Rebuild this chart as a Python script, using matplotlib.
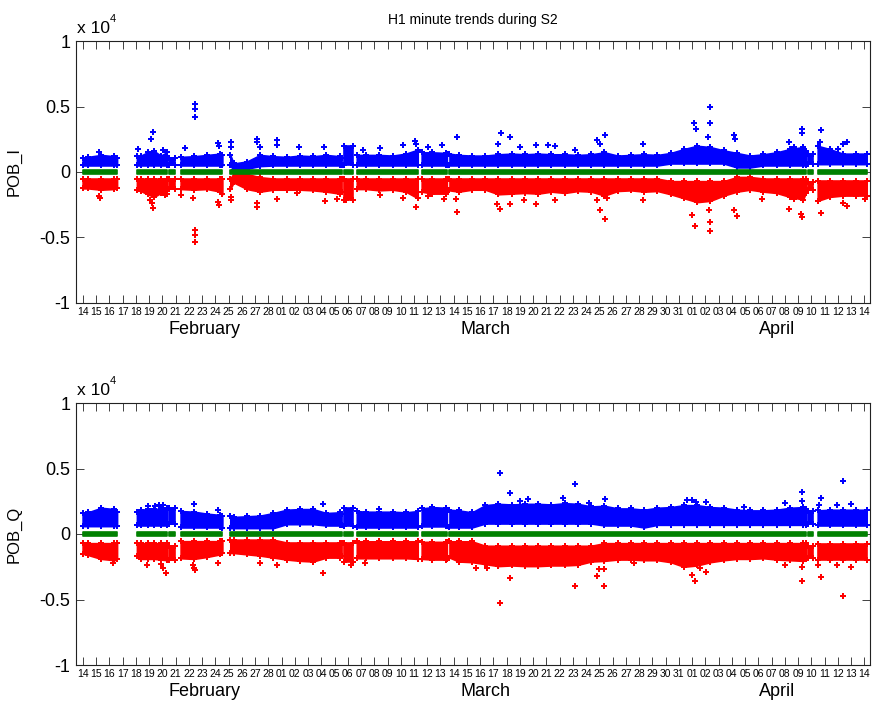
import matplotlib
matplotlib.use("Agg")
import matplotlib.pyplot as plt
import numpy as np

plt.rcParams["font.family"] = ["Liberation Sans", "DejaVu Sans"]

# time axis: days after Feb 14 (data coordinates); labels sit slightly left of whole days
feb_days = list(range(14, 29))
mar_days = list(range(1, 32))
apr_days = list(range(1, 15))
tick_labels = ["%02d" % d for d in feb_days + mar_days + apr_days]
tick_offset = -0.38
month_names = ["February", "March", "April"]
month_pos = [8.8, 30.0, 52.0]

# stretches of time with data (day offsets)
segments = [(-0.4, 2.2), (3.7, 5.95), (6.1, 6.6), (7.0, 10.15), (10.75, 19.15),
            (19.3, 20.05), (20.3, 24.9), (25.2, 27.1), (27.3, 54.2),
            (54.4, 54.75), (55.1, 58.8)]

t = [-0.4, 0, 1, 2, 2.2,
     3.7, 4, 4.5, 5, 5.5, 5.95,
     6.1, 6.6,
     7, 8, 9, 10, 10.15,
     10.75, 11, 12, 13, 14, 15, 16, 17, 18, 19, 19.15,
     19.3, 20.05,
     20.3, 21, 22, 23, 24, 24.9,
     25.2, 26, 27, 27.1,
     27.3, 28, 29, 30, 31, 32, 33, 34, 35, 36, 37, 38, 39, 40, 41,
     42, 43, 44, 45, 46, 47, 48, 49, 50, 51, 52, 53, 54, 54.2,
     54.4, 54.75,
     55.1, 56, 57, 58, 58.8]

# ---- POB_I ----
top_blue_hi = [1100, 1150, 1300, 1200, 1050,
               1250, 1250, 1500, 1600, 1250, 1500,
               1050, 1050,
               1150, 1200, 1300, 1400, 1300,
               1300, 650, 800, 1300, 1200, 1150, 1250, 1200, 1300, 1200, 1100,
               1950, 1950,
               1300, 1300, 1300, 1250, 1400, 1700,
               1500, 1500, 1450, 1400,
               1400, 1300, 1250, 1250, 1350, 1400, 1350, 1400, 1350, 1350, 1300,
               1350, 1500, 1250, 1300, 1350, 1300, 1450, 1750, 2000, 1900, 1650,
               1450, 1250, 1350, 1500, 1750, 1900, 1600,
               1400, 1400,
               2000, 1750, 1400, 1400, 1400]
top_blue_lo = [500] * 5 + [500] * 6 + [500] * 2 + [500] * 5 + \
              [500, 150, 250, 450] + [500] * 7 + [500] * 2 + [500] * 6 + [500] * 4 + \
              [500] * 17 + [650] * 5 + [350] * 2 + [500] * 5 + [600] * 2 + [600] * 5
top_red_hi = [-500] * 5 + [-500] * 6 + [-500] * 2 + [-500] * 5 + \
             [-500, -100, -150, -400] + [-500] * 7 + [-500] * 2 + [-500] * 6 + [-500] * 4 + \
             [-500] * 17 + [-700] * 5 + [-380] * 2 + [-500] * 5 + [-750] * 2 + [-650] * 5
top_red_lo = [-1250, -1250, -1350, -1300, -1200,
              -1400, -1450, -1700, -1900, -1600, -1700,
              -1300, -1300,
              -1300, -1350, -1300, -1500, -1700,
              -1300, -800, -1300, -1500, -1350, -1350, -1350, -1400, -1500, -1650, -1500,
              -2100, -2100,
              -1300, -1300, -1400, -1350, -1500, -2000,
              -1500, -1650, -1650, -1500,
              -1400, -1500, -1350, -1350, -1700, -1650, -1600, -1650, -1500, -1600, -1450,
              -1500, -1800, -1450, -1400, -1500, -1450, -1700, -2000, -2300, -2200, -1800,
              -1500, -1350, -1500, -1600, -1900, -2100, -1600,
              -1400, -1400,
              -2200, -1900, -1800, -1800, -1800]

top_blue_spike_t = [0.8, 3.8, 4.75, 4.9, 5.7, 7.3, 8.05, 8.1, 8.1, 9.85, 9.9, 10.78, 10.8,
                    12.75, 12.75, 13.0, 14.25, 14.25, 15.9, 17.8, 20.8, 22.05, 23.8, 24.7,
                    24.8, 25.7, 26.7, 27.85, 30.95, 31.2, 31.9, 32.65, 33.85, 34.75, 35.3,
                    36.8, 38.45, 38.7, 39.05, 41.9, 45.74, 45.9, 46.95, 46.95, 46.85, 48.8,
                    48.85, 52.9, 53.3, 53.9, 53.9, 55.35, 55.3, 56.6, 57.0, 57.3]
top_blue_spike_v = [1500, 1780, 2540, 3050, 1650, 1850, 5200, 4800, 4200, 2250, 1950, 2290, 1900,
                    2540, 2290, 1900, 2410, 2030, 1900, 1900, 1650, 1850, 2030, 2340,
                    2160, 1900, 2030, 2670, 2160, 2970, 2670, 1900, 2030, 2030, 1970,
                    1700, 2440, 2160, 2790, 2160, 3730, 3300, 3730, 4950, 2670, 2800,
                    2540, 2290, 1900, 3300, 2970, 3200, 2300, 1780, 2160, 2290]
top_red_spike_t = [0.8, 0.9, 4.7, 4.85, 4.95, 5.8, 7.0, 7.9, 8.05, 8.1, 8.1, 9.85, 9.9, 10.78,
                   10.8, 12.75, 12.8, 14.25, 15.8, 17.9, 18.8, 19.5, 22.05, 23.8, 24.8, 25.7,
                   26.85, 27.8, 27.85, 30.9, 31.1, 31.9, 32.9, 33.8, 35.3, 38.45, 38.7, 39.05,
                   39.2, 41.9, 45.6, 45.8, 46.95, 46.95, 46.9, 48.8, 49.0, 50.9, 52.9, 53.3,
                   53.9, 53.85, 55.35, 57.0, 57.3, 58.7]
top_red_spike_v = [-1850, -1950, -2100, -2400, -2720, -1780, -1750, -1950, -4410, -4800, -5340,
                   -2300, -2550, -2160, -1900, -2670, -2360, -2030, -1600, -2210, -2030, -2160,
                   -1780, -1950, -2670, -1850, -2030, -2030, -3050, -2410, -2790, -2460, -2160,
                   -2410, -2110, -2160, -2870, -3560, -1950, -2110, -3300, -4140, -3800, -4500,
                   -2920, -2920, -3380, -2030, -2840, -2030, -3430, -3200, -3120, -2360, -2620,
                   -2030]

# ---- POB_Q ----
bot_blue_hi = [1600, 1650, 2000, 1900, 1700,
               1700, 1850, 1900, 1900, 1950, 2000,
               2000, 2000,
               1750, 1700, 1550, 1450, 1350,
               1350, 1300, 1350, 1400, 1600, 1850, 1900, 1900, 1600, 1650, 1500,
               1950, 1950,
               1750, 1700, 1700, 1700, 1650, 1750,
               1950, 2050, 2000, 1850,
               1850, 1800, 1650, 2200, 2300, 2250, 2300, 2300, 2250, 2350, 2300,
               2100, 2150, 1950, 1950, 1850, 2000, 2050, 2200, 2200, 2050, 2000,
               1850, 1800, 1800, 1850, 2000, 2050, 1900,
               1750, 1750,
               1800, 1850, 1850, 1850, 1850]
bot_blue_lo = [600] * 5 + [650] * 6 + [800] * 2 + [500, 500, 500, 500, 450] + \
              [450] * 5 + [750] * 3 + [650] * 3 + [600] * 2 + [500] * 6 + [580] * 4 + \
              [500] * 3 + [800] * 9 + [650] * 3 + [500] + [700] * 13 + [750] * 2 + [650] * 5
bot_red_hi = [-700] * 5 + [-700] * 6 + [-940] * 2 + [-550] * 5 + \
             [-430] * 5 + [-650] * 6 + [-700] * 2 + [-560] * 6 + [-600] * 4 + \
             [-560] * 3 + [-900] * 9 + [-700] * 17 + [-950] * 2 + [-800] * 5
bot_red_lo = [-1500, -1600, -1900, -2000, -1900,
              -1700, -1900, -1900, -1900, -1950, -2000,
              -1950, -1950,
              -1850, -1900, -1750, -1550, -1450,
              -1450, -1450, -1550, -1650, -1800, -1950, -2050, -2100, -1800, -1800, -1700,
              -2100, -2100,
              -1850, -1850, -1850, -1850, -1850, -1900,
              -1900, -1950, -1950, -1900,
              -1800, -2100, -2150, -2300, -2450, -2400, -2450, -2450, -2400, -2400, -2350,
              -2100, -2050, -1950, -1950, -2000, -2000, -2150, -2500, -2400, -2150, -2000,
              -1900, -1900, -1850, -1950, -2000, -2050, -1900,
              -1820, -1820,
              -2000, -2000, -2000, -2000, -2000]

bot_blue_spike_t = [4.5, 5.1, 5.4, 5.7, 8.0, 9.85, 17.75, 22.0, 31.1, 31.9, 32.65, 33.2, 35.9,
                    36.8, 37.8, 39.05, 45.2, 45.6, 45.9, 46.7, 49.5, 52.65, 53.9, 53.9, 55.35,
                    55.2, 56.55, 57.0, 57.6]
bot_blue_spike_v = [2100, 2150, 2200, 2200, 2280, 1800, 2300, 1900, 4680, 3110, 2530, 2700, 2730,
                    3800, 2350, 2680, 2600, 2600, 2480, 2480, 2030, 2350, 3190, 2550, 2730,
                    2230, 2230, 4070, 2280]
bot_red_spike_t = [1.9, 4.45, 5.5, 5.7, 5.9, 7.9, 8.05, 8.0, 9.85, 13.0, 14.25, 17.75, 19.9,
                   20.9, 29.3, 30.1, 31.1, 31.9, 36.8, 38.4, 38.6, 38.95, 39.0, 41.25, 45.6,
                   45.8, 46.2, 46.7, 52.6, 53.9, 53.9, 55.1, 55.35, 56.55, 57.0, 57.6]
bot_red_spike_v = [-2200, -2400, -2300, -2580, -2960, -2400, -2780, -2600, -2200, -2200, -2330,
                   -2960, -2330, -2200, -2580, -2580, -5300, -3340, -4000, -3240, -2700, -4000,
                   -2700, -2250, -3150, -3590, -2580, -2870, -2330, -2530, -3590, -2330, -3300,
                   -2330, -4730, -2530]

green_half = 160

BLUE = "#0000FF"
RED = "#FF0000"
GREEN = "#008000"


def draw_panel(ax, blue_hi, blue_lo, red_hi, red_lo, bst, bsv, rst, rsv, name):
    tt = np.array(t)
    bands = [(np.array(blue_lo), np.array(blue_hi), BLUE),
             (np.array(red_lo), np.array(red_hi), RED)]
    for s0, s1 in segments:
        m = (tt >= s0 - 1e-9) & (tt <= s1 + 1e-9)
        for lo, hi, c in bands:
            ax.fill_between(tt[m], lo[m], hi[m], color=c, lw=1.2, zorder=2)
            # ragged look along the band edges
            ax.plot(tt[m], hi[m], "P", color=c, ms=4, mew=0, zorder=2)
            ax.plot(tt[m], lo[m], "P", color=c, ms=4, mew=0, zorder=2)
        ax.fill_between([s0, s1], [-green_half] * 2, [green_half] * 2,
                        color=GREEN, lw=1.2, zorder=2)
    ax.plot(bst, bsv, "P", color=BLUE, ms=4, mew=0, zorder=3)
    ax.plot(rst, rsv, "P", color=RED, ms=4, mew=0, zorder=3)

    ax.set_xlim(-0.9, 59.05)
    ax.set_ylim(-1e4, 1e4)
    ax.set_xticks(np.arange(len(tick_labels)) + tick_offset)
    ax.set_xticklabels(tick_labels, fontsize=7.5)
    ax.set_yticks([-1e4, -5e3, 0, 5e3, 1e4])
    ax.set_yticklabels(["-1", "-0.5", "0", "0.5", "1"], fontsize=13)
    ax.tick_params(axis="both", direction="in", length=5.5, width=0.6,
                   top=True, right=True, color="#222222")
    ax.tick_params(axis="x", pad=3)
    ax.tick_params(axis="y", pad=4)
    for sp in ax.spines.values():
        sp.set_linewidth(0.8)
        sp.set_color("#222222")
    ax.set_ylabel(name, fontsize=12)
    ax.yaxis.set_label_coords(-54 / 794, 0.5)
    for mn, mp in zip(month_names, month_pos):
        ax.text(mp, -0.103, mn, transform=ax.get_xaxis_transform(),
                ha="center", va="center", fontsize=13)
    ax.text(0.001, 1 + 8 / 262, "x 10", transform=ax.transAxes,
            ha="left", va="baseline", fontsize=12.5)
    ax.text(0.043, 1 + 19 / 262, "4", transform=ax.transAxes,
            ha="left", va="baseline", fontsize=8)


fig = plt.figure(figsize=(8.73, 7.07), dpi=100)
ax1 = fig.add_axes([76 / 873, 1 - 303 / 707, 794 / 873, 262 / 707])
ax2 = fig.add_axes([76 / 873, 1 - 665 / 707, 794 / 873, 262 / 707])

draw_panel(ax1, top_blue_hi, top_blue_lo, top_red_hi, top_red_lo,
           top_blue_spike_t, top_blue_spike_v, top_red_spike_t, top_red_spike_v, "POB_I")
draw_panel(ax2, bot_blue_hi, bot_blue_lo, bot_red_hi, bot_red_lo,
           bot_blue_spike_t, bot_blue_spike_v, bot_red_spike_t, bot_red_spike_v, "POB_Q")

ax1.text(0.5, 1 + 21 / 262, "H1 minute trends during S2", transform=ax1.transAxes,
         ha="center", va="center", fontsize=10)

fig.savefig("out.png", dpi=100)
